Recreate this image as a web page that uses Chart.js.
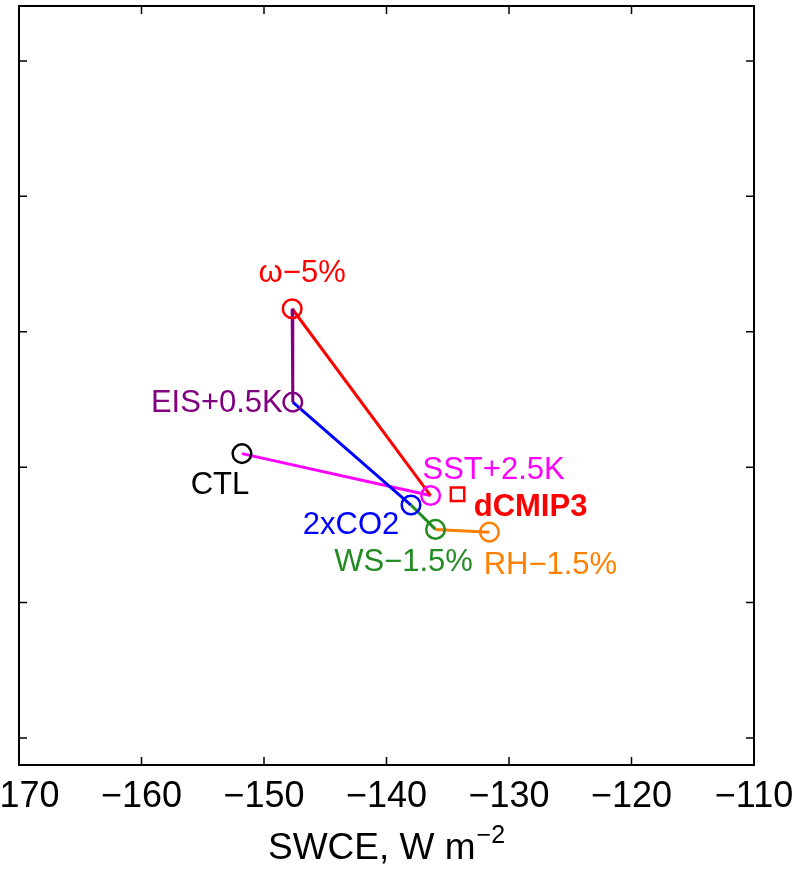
<!DOCTYPE html>
<html>
<head>
<meta charset="utf-8">
<script src="https://cdn.jsdelivr.net/npm/chart.js@4/dist/chart.umd.min.js"></script>
<style>
  html, body { margin: 0; padding: 0; background: #fff; }
  #wrap { width: 801px; height: 869px; }
</style>
</head>
<body>
<div id="wrap"><canvas id="c"></canvas></div>
<script>
// cumulative perturbation path: CTL -> SST -> omega -> EIS -> CO2 -> WS -> RH
const runs = ["CTL", "SST+2.5K", "\u03c9\u22125%", "EIS+0.5K", "2xCO2", "WS\u22121.5%", "RH\u22121.5%"];
const swce = [-151.8, -136.4, -147.7, -147.65, -138.0, -136.0, -131.6];
const yval = [2.10, 1.79, 3.17, 2.48, 1.72, 1.54, 1.52];

const cmipName = "dCMIP3";
const cmipX = [-134.2];
const cmipY = [1.80];

const xTicks = [-170, -160, -150, -140, -130, -120, -110];
const yTicks = [0, 1, 2, 3, 4, 5];   // y tick labels are cut off in the picture
const xRange = [-170, -110];
const yRange = [-0.2, 5.406];

const runColors = ["#000000", "#ff00ff", "#ff0000", "#800080", "#0000ff", "#228b22", "#ff8000"];
const FONT = '"Liberation Sans", Arial, Helvetica, sans-serif';

// where each text sits relative to its marker (pixels)
const runLabelPos = [
  { dx: -22, dy: 32, align: "center" },   // CTL
  { dx: 63, dy: -25, align: "center" },   // SST
  { dx: 10, dy: -35, align: "center" },   // omega
  { dx: -10, dy: 1, align: "right" },     // EIS
  { dx: -60, dy: 20, align: "center" },   // 2xCO2
  { dx: -32, dy: 33, align: "center" },   // WS
  { dx: 61, dy: 33, align: "center" }     // RH
];
const cmipLabelPos = { dx: 73, dy: 13 };

const minus = v => (v < 0 ? "\u2212" : "") + Math.abs(v);

// box round the axes with inward tick marks, like matlab
const frame = {
  id: "frame",
  afterDraw(chart) {
    const { ctx, chartArea: a, scales } = chart;
    ctx.save();
    ctx.strokeStyle = "#000";
    ctx.lineWidth = 1.5;
    ctx.beginPath();
    xTicks.forEach(v => {
      const p = scales.x.getPixelForValue(v);
      ctx.moveTo(p, a.bottom); ctx.lineTo(p, a.bottom - 8);
      ctx.moveTo(p, a.top); ctx.lineTo(p, a.top + 8);
    });
    yTicks.forEach(v => {
      const p = scales.y.getPixelForValue(v);
      ctx.moveTo(a.left, p); ctx.lineTo(a.left + 8, p);
      ctx.moveTo(a.right, p); ctx.lineTo(a.right - 8, p);
    });
    ctx.stroke();
    ctx.lineWidth = 2;
    ctx.strokeRect(a.left, a.top, a.right - a.left, a.bottom - a.top);

    // axis title with superscript
    const t1 = "SWCE, W m", t2 = "\u22122";
    ctx.fillStyle = "#000";
    ctx.textBaseline = "alphabetic";
    ctx.textAlign = "left";
    ctx.font = "37px " + FONT;
    const w1 = ctx.measureText(t1).width;
    ctx.font = "25px " + FONT;
    const w2 = ctx.measureText(t2).width;
    const x0 = (a.left + a.right) / 2 - (w1 + w2 + 1) / 2;
    ctx.font = "37px " + FONT;
    ctx.fillText(t1, x0, 859);
    ctx.font = "25px " + FONT;
    ctx.fillText(t2, x0 + w1 + 1, 843);
    ctx.restore();
  }
};

const labels = {
  id: "labels",
  afterDatasetsDraw(chart) {
    const { ctx, scales } = chart;
    ctx.save();
    ctx.textBaseline = "middle";
    ctx.font = "31px " + FONT;
    runs.forEach((name, i) => {
      const p = runLabelPos[i];
      ctx.fillStyle = runColors[i];
      ctx.textAlign = p.align;
      ctx.fillText(name,
        scales.x.getPixelForValue(swce[i]) + p.dx,
        scales.y.getPixelForValue(yval[i]) + p.dy);
    });
    ctx.font = "bold 31px " + FONT;
    ctx.fillStyle = "#ff0000";
    ctx.textAlign = "center";
    ctx.fillText(cmipName,
      scales.x.getPixelForValue(cmipX[0]) + cmipLabelPos.dx,
      scales.y.getPixelForValue(cmipY[0]) + cmipLabelPos.dy);
    ctx.restore();
  }
};

new Chart(document.getElementById("c"), {
  type: "scatter",
  data: {
    datasets: [
      {
        data: swce.map((x, i) => ({ x: x, y: yval[i] })),
        showLine: true,
        borderWidth: 3,
        borderColor: runColors[1],
        segment: { borderColor: c => runColors[c.p1DataIndex] },
        pointRadius: 9.3,
        pointHoverRadius: 9.3,
        pointBorderWidth: 2.5,
        pointBorderColor: runColors,
        pointBackgroundColor: "rgba(0,0,0,0)"
      },
      {
        data: cmipX.map((x, i) => ({ x: x, y: cmipY[i] })),
        showLine: false,
        pointStyle: "rect",
        pointRadius: 9.5,
        pointHoverRadius: 9.5,
        pointBorderWidth: 2.5,
        pointBorderColor: "#ff0000",
        pointBackgroundColor: "rgba(0,0,0,0)"
      }
    ]
  },
  options: {
    responsive: true,
    maintainAspectRatio: false,
    animation: false,
    layout: { autoPadding: false, padding: { left: 19, right: 47, top: 6, bottom: 0 } },
    plugins: { legend: { display: false }, tooltip: { enabled: false } },
    scales: {
      x: {
        type: "linear",
        min: xRange[0],
        max: xRange[1],
        afterBuildTicks: s => { s.ticks = xTicks.map(v => ({ value: v })); },
        afterFit: s => { s.height = 104; s.paddingLeft = 0; s.paddingRight = 0; },
        grid: { display: false, drawTicks: false },
        border: { display: false },
        ticks: {
          color: "#000",
          font: { size: 36, family: FONT },
          padding: 10,
          maxRotation: 0,
          autoSkip: false,
          callback: v => minus(v)
        }
      },
      y: {
        type: "linear",
        min: yRange[0],
        max: yRange[1],
        afterBuildTicks: s => { s.ticks = yTicks.map(v => ({ value: v })); },
        afterFit: s => { s.width = 0; },
        grid: { display: false, drawTicks: false },
        border: { display: false },
        ticks: { display: false }
      }
    }
  },
  plugins: [frame, labels]
});
</script>
</body>
</html>
